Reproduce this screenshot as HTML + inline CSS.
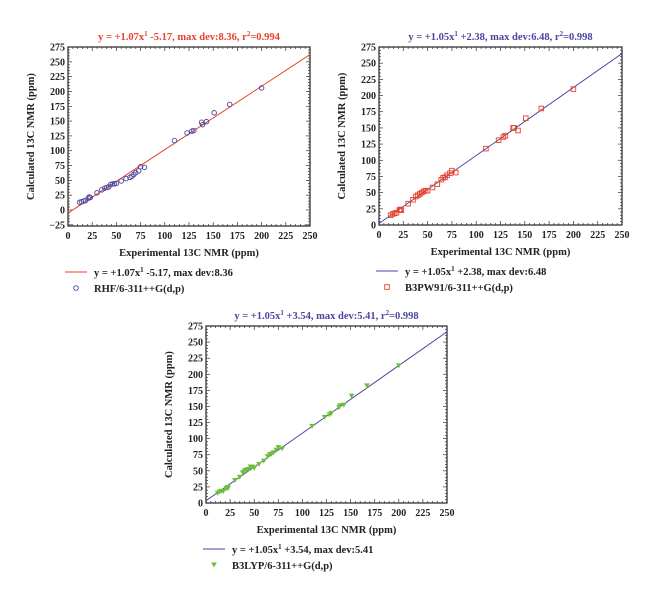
<!DOCTYPE html>
<html><head><meta charset="utf-8"><style>
body{margin:0;background:#fff;width:660px;height:602px;overflow:hidden}
svg{display:block;font-family:"Liberation Serif",serif;font-weight:bold}
</style></head><body>
<svg id="s" width="660" height="602"></svg>
<script>
const expX=[12,14,16,18,21,22,23,30,35,38,40,42,44,46,48,50,55,60,64,66,68,70,73,75,79,110,123,128,130,138,139,143,151,167,200];
const rhfY=[13,14,15,16,20,22,21,29,34,37,38,39,43,44,44,45,49,53,55,57,60,63,66,73,72,117,130,133,134,148,144,149,164,178,206];
const b3pwY=[15,17,18,19,23,24,23,33,39,44,46,48,50,52,53,53,58,63,70,73,74,77,80,84,81,118,131,136,138,150,150,146,165,180,210];
const b3lypY=[15,17,18,18,22,24,23,35,40,47,50,51,52,56,56,54,60,65,72,75,76,78,82,86,84,119,133,137,139,148,151,152,166,182,213];
const xTicks=[0,25,50,75,100,125,150,175,200,225,250];
const yTicksA=[-25,0,25,50,75,100,125,150,175,200,225,250,275];
const yTicksB=[0,25,50,75,100,125,150,175,200,225,250,275];
const fitA=[1.07,-5.17], fitB=[1.05,2.38], fitC=[1.05,3.54];
const NS="http://www.w3.org/2000/svg", svg=document.getElementById('s');
function el(t,a,p){const e=document.createElementNS(NS,t);for(const k in a)e.setAttribute(k,a[k]);(p||svg).appendChild(e);return e;}
function chart(o){
  const g=el('g',{});
  
  
  const sx=v=>o.x0+(v-0)/250*(o.x1-o.x0);
  const sy=v=>o.y0-(v-0)/275*(o.y0-o.yT);
  const yb=sy(o.ymin);
  const fr=el('rect',{x:o.x0,y:o.yT,width:o.x1-o.x0,height:yb-o.yT,fill:'none',stroke:'#333','stroke-width':1.3},g);
  
  for(let v=0;v<=250;v+=5){const L=v%25==0?4:2;
    el('line',{x1:sx(v),x2:sx(v),y1:yb,y2:yb-L,stroke:'#333','stroke-width':0.7},g);
    el('line',{x1:sx(v),x2:sx(v),y1:o.yT,y2:o.yT+L,stroke:'#333','stroke-width':0.7},g);}
  for(let v=Math.ceil(o.ymin/5)*5;v<=275;v+=5){const L=v%25==0?4:2;
    el('line',{x1:o.x0,x2:o.x0+L,y1:sy(v),y2:sy(v),stroke:'#333','stroke-width':0.7},g);
    el('line',{x1:o.x1,x2:o.x1-L,y1:sy(v),y2:sy(v),stroke:'#333','stroke-width':0.7},g);}
  xTicks.forEach(v=>{const t=el('text',{x:sx(v),y:yb+13,'text-anchor':'middle','font-size':10,fill:'#222'},g);t.textContent=v;
    });
  o.yTicks.forEach(v=>{const t=el('text',{x:o.x0-3,y:sy(v)+3.5,'text-anchor':'end','font-size':10,fill:'#222'},g);t.textContent=(v<0?'\u2212'+(-v):v);
    });
  let t=el('text',{x:(o.x0+o.x1)/2,y:yb+30,'text-anchor':'middle','font-size':10.5,fill:'#222'},g);t.textContent='Experimental 13C NMR (ppm)';
  
  const cy=(o.yT+yb)/2;
  t=el('text',{x:o.x0-34,y:cy,'text-anchor':'middle','font-size':10.5,fill:'#222',transform:`rotate(-90 ${o.x0-34} ${cy})`},g);t.textContent='Calculated 13C NMR (ppm)';
  
  t=el('text',{x:(o.x0+o.x1)/2,y:o.yT-7,'text-anchor':'middle','font-size':10.5,fill:o.tc},g);
  t.innerHTML=`y = +${o.fit[0].toFixed(2)}x<tspan dy="-4" font-size="7">1</tspan><tspan dy="4"> ${o.fit[1]<0?'':'+'}${o.fit[1]}, max dev:${o.dev}, r</tspan><tspan dy="-4" font-size="7">2</tspan><tspan dy="4">=${o.r2}</tspan>`;
  
  const cp=el('clipPath',{id:'c'+o.name},g);el('rect',{x:o.x0,y:o.yT,width:o.x1-o.x0,height:yb-o.yT},cp);
  const ln=el('line',{x1:sx(0),y1:sy(o.fit[1]),x2:sx(250),y2:sy(o.fit[0]*250+o.fit[1]),stroke:o.lc,'stroke-width':1,'clip-path':`url(#c${o.name})`},g);
  
  expX.forEach((x,i)=>{const X=sx(x),Y=sy(o.ys[i]);let m;
    if(o.mk=='c')m=el('circle',{cx:X,cy:Y,r:2.3,fill:'none',stroke:o.pc,'stroke-width':0.9},g);
    else if(o.mk=='s')m=el('rect',{x:X-2.3,y:Y-2.3,width:4.6,height:4.6,fill:'none',stroke:o.pc,'stroke-width':0.9},g);
    else m=el('path',{d:`M${X-2.8},${Y-2.5}L${X+2.8},${Y-2.5}L${X},${Y+2.5}Z`,fill:o.pc},g);
    });
  const lx=o.x0, ly=yb+46;
  el('line',{x1:lx-3,x2:lx+19,y1:ly,y2:ly,stroke:o.lc,'stroke-width':1},g);
  t=el('text',{x:lx+26,y:ly+4,'font-size':10.5,fill:'#222'},g);
  t.innerHTML=`y = +${o.fit[0].toFixed(2)}x<tspan dy="-4" font-size="7">1</tspan><tspan dy="4"> ${o.fit[1]<0?'':'+'}${o.fit[1]}, max dev:${o.dev}</tspan>`;
  
  const X=lx+8,Y=ly+16;
  if(o.mk=='c')el('circle',{cx:X,cy:Y,r:2.3,fill:'none',stroke:o.pc,'stroke-width':0.9},g);
  else if(o.mk=='s')el('rect',{x:X-2.3,y:Y-2.3,width:4.6,height:4.6,fill:'none',stroke:o.pc,'stroke-width':0.9},g);
  else el('path',{d:`M${X-2.8},${Y-2.5}L${X+2.8},${Y-2.5}L${X},${Y+2.5}Z`,fill:o.pc},g);
  t=el('text',{x:lx+26,y:Y+4,'font-size':10.5,fill:'#222'},g);t.textContent=o.leg;
  
}
chart({name:'rhf-chart',x0:68,x1:310,yT:47,y0:210,ymin:-27,yTicks:yTicksA,ys:rhfY,fit:fitA,dev:'8.36',r2:'0.994',tc:'#e8402a',lc:'#e8402a',pc:'#4a46a0',mk:'c',leg:'RHF/6-311++G(d,p)'});
chart({name:'b3pw91-chart',x0:379,x1:622,yT:47,y0:225,ymin:0,yTicks:yTicksB,ys:b3pwY,fit:fitB,dev:'6.48',r2:'0.998',tc:'#4a46a0',lc:'#4a46a0',pc:'#e8402a',mk:'s',leg:'B3PW91/6-311++G(d,p)'});
chart({name:'b3lyp-chart',x0:206,x1:447,yT:326,y0:503,ymin:0,yTicks:yTicksB,ys:b3lypY,fit:fitC,dev:'5.41',r2:'0.998',tc:'#4a46a0',lc:'#4a46a0',pc:'#6cbf3a',mk:'t',leg:'B3LYP/6-311++G(d,p)'});
</script>
</body></html>
